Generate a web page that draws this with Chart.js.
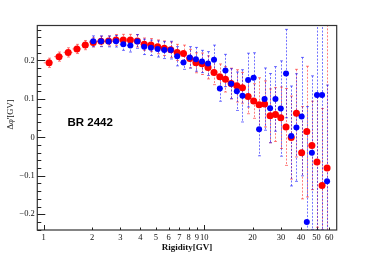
<!DOCTYPE html>
<html>
<head>
<meta charset="utf-8">
<script src="https://cdn.jsdelivr.net/npm/chart.js@4.4.1/dist/chart.umd.min.js"></script>
<style>
  html, body { margin: 0; padding: 0; background: #fff; }
  #wrap { width: 374px; height: 256px; }
</style>
</head>
<body>
<div id="wrap"><canvas id="chart" width="374" height="256"></canvas></div>
<script>
// rigidity bin centres and edges (GV)
var rigidity = [1.08, 1.245, 1.42, 1.61, 1.815, 2.035, 2.275, 2.535, 2.82, 3.13, 3.465, 3.83, 4.225, 4.655, 5.125,
    5.635, 6.185, 6.78, 7.425, 8.12, 8.87, 9.68, 10.55, 11.5, 12.5, 13.55, 14.7, 15.95, 17.3, 18.75,
    20.3, 21.95, 23.75, 25.7, 27.75, 29.95, 32.3, 34.8, 37.5, 40.4, 43.5, 46.8, 50.35, 54.15, 58.2];
var binEdges = [1.00, 1.16, 1.33, 1.51, 1.71, 1.92, 2.15, 2.40, 2.67, 2.97, 3.29, 3.64, 4.02, 4.43, 4.88, 5.37,
    5.90, 6.47, 7.09, 7.76, 8.48, 9.26, 10.1, 11.0, 12.0, 13.0, 14.1, 15.3, 16.6, 18.0, 19.5,
    21.1, 22.8, 24.7, 26.7, 28.8, 31.1, 33.5, 36.1, 38.9, 41.9, 45.1, 48.5, 52.2, 56.1, 60.3];

var redValues = [0.194, 0.210, 0.221, 0.230, 0.240, 0.247, 0.250, 0.251, 0.2535, 0.253, 0.253, 0.251, 0.2425, 0.240, 0.2355,
    0.232, 0.228, 0.221, 0.218, 0.205, 0.194, 0.1915, 0.182, 0.169, 0.158, 0.151, 0.140, 0.134, 0.129, 0.1065,
    0.0945, 0.085, 0.087, 0.056, 0.0594, 0.051, 0.027, -0.0005, 0.063, -0.040, 0.015, -0.021, -0.064, -0.125, -0.080];
var redErrors = [0.012, 0.012, 0.012, 0.012, 0.012, 0.012, 0.013, 0.013, 0.014, 0.015, 0.015, 0.016, 0.016, 0.017, 0.018,
    0.019, 0.020, 0.021, 0.022, 0.024, 0.026, 0.028, 0.030, 0.032, 0.033, 0.033, 0.040, 0.042, 0.040, 0.045,
    0.045, 0.070, 0.060, 0.070, 0.070, 0.080, 0.100, 0.108, 0.114, 0.120, 0.170, 0.115, 0.170, 0.200, 0.400];

var blueValues = [null, null, null, null, null, 0.250, 0.250, 0.2495, 0.250, 0.2424, 0.239, 0.2495, 0.2354, 0.233, 0.230,
    0.227, 0.227, 0.211, 0.195, 0.208, 0.203, 0.1974, 0.192, 0.202, 0.127, 0.174, 0.1396, 0.120, 0.108, 0.149,
    0.155, 0.021, 0.0995, 0.076, 0.100, 0.075, 0.166, 0.0036, 0.0255, 0.054, -0.220, -0.040, 0.110, 0.110, -0.114];
var blueErrors = [null, null, null, null, null, 0.014, 0.014, 0.014, 0.015, 0.016, 0.017, 0.018, 0.020, 0.020, 0.021,
    0.022, 0.023, 0.025, 0.018, 0.028, 0.031, 0.029, 0.031, 0.038, 0.033, 0.042, 0.039, 0.050, 0.068, 0.070,
    0.065, 0.069, 0.081, 0.090, 0.084, 0.124, 0.115, 0.130, 0.140, 0.154, 0.300, 0.200, 0.350, 0.350, 0.250];

var xTickValues = [1, 2, 3, 4, 5, 6, 7, 8, 9, 10, 20, 30, 40, 50, 60];
var yTickValues = [-0.2, -0.1, 0, 0.1, 0.2];

function makePoints(values, errors) {
    var pts = [];
    rigidity.forEach(function (r, i) {
        if (values[i] === null) return;
        pts.push({ x: r, y: values[i], err: errors[i], lo: binEdges[i], hi: binEdges[i + 1] });
    });
    return pts;
}

var serif = '"Liberation Serif", "DejaVu Serif", serif';
Chart.defaults.font.family = serif;

var errorBars = {
    id: 'errorBars',
    beforeDatasetsDraw: function (chart) {
        var ctx = chart.ctx, xs = chart.scales.x, ys = chart.scales.y, a = chart.chartArea;
        ctx.save();
        ctx.beginPath();
        ctx.rect(a.left, a.top, a.right - a.left, a.bottom - a.top);
        ctx.clip();
        ctx.lineWidth = 1;
        chart.data.datasets.slice().reverse().forEach(function (ds) {
            ctx.strokeStyle = ds.errorColor;
            ds.data.forEach(function (p) {
                var px = Math.round(xs.getPixelForValue(p.x)) + 0.5;
                var py = ys.getPixelForValue(p.y);
                var top = ys.getPixelForValue(p.y + p.err);
                var bot = ys.getPixelForValue(p.y - p.err);
                ctx.setLineDash([2, 1.5]);
                ctx.beginPath();
                ctx.moveTo(px, top); ctx.lineTo(px, bot);
                ctx.moveTo(xs.getPixelForValue(p.lo), py); ctx.lineTo(xs.getPixelForValue(p.hi), py);
                ctx.stroke();
                ctx.setLineDash([]);
                ctx.beginPath();
                ctx.moveTo(px - 1.5, top); ctx.lineTo(px + 1.5, top);
                ctx.moveTo(px - 1.5, bot); ctx.lineTo(px + 1.5, bot);
                ctx.stroke();
            });
        });
        ctx.restore();
    },
    afterDraw: function (chart) {
        var ctx = chart.ctx, xs = chart.scales.x, ys = chart.scales.y, a = chart.chartArea;
        ctx.save();
        // frame
        ctx.strokeStyle = '#333';
        ctx.lineWidth = 1.2;
        ctx.strokeRect(a.left, a.top, a.right - a.left, a.bottom - a.top);
        // inward ticks
        ctx.lineWidth = 1;
        ctx.strokeStyle = '#222';
        ctx.beginPath();
        xTickValues.forEach(function (v) {
            var px = Math.round(xs.getPixelForValue(v)) + 0.5;
            var len = (v === 1 || v === 10) ? 5 : 2.5;
            ctx.moveTo(px, a.bottom); ctx.lineTo(px, a.bottom - len);
        });
        for (var k = Math.ceil(ys.min / 0.02); k <= Math.floor(ys.max / 0.02); k++) {
            var py = Math.round(ys.getPixelForValue(k * 0.02)) + 0.5;
            var len = (k % 5 === 0) ? 8 : 4;
            ctx.moveTo(a.left, py); ctx.lineTo(a.left + len, py);
        }
        ctx.stroke();
        // label inside the frame
        ctx.fillStyle = '#000';
        ctx.font = 'bold 11.5px "Liberation Sans", Arial, sans-serif';
        ctx.textAlign = 'left';
        ctx.textBaseline = 'alphabetic';
        ctx.fillText('BR 2442', 67.5, 126);
        // y axis title
        ctx.translate(12.5, 114.5);
        ctx.rotate(-Math.PI / 2);
        ctx.font = '8.5px ' + serif;
        ctx.textAlign = 'center';
        ctx.fillStyle = '#111';
        ctx.fillText('\u0394\u03c6\'[GV]', 0, 0);
        ctx.restore();
    }
};

var ctx = document.getElementById('chart').getContext('2d');
var chart = new Chart(ctx, {
    type: 'scatter',
    data: {
        datasets: [{
            label: 'blue',
            data: makePoints(blueValues, blueErrors),
            pointRadius: 3,
            pointBackgroundColor: '#0000ff',
            pointBorderWidth: 0,
            errorColor: 'rgba(0,0,255,0.55)'
        }, {
            label: 'red',
            data: makePoints(redValues, redErrors),
            pointRadius: 3.5,
            pointBackgroundColor: '#ff0000',
            pointBorderWidth: 0,
            errorColor: 'rgba(255,0,0,0.5)'
        }]
    },
    options: {
        responsive: false,
        animation: false,
        layout: { padding: { top: 25.5, right: 37.3, left: 0, bottom: 0 } },
        plugins: { legend: { display: false }, tooltip: { enabled: false } },
        scales: {
            x: {
                type: 'logarithmic',
                min: 0.912,
                max: 66.8,
                grid: { display: false, drawTicks: false },
                border: { display: false },
                ticks: {
                    autoSkip: false,
                    maxRotation: 0,
                    padding: 3,
                    color: '#111',
                    font: { size: 8.5 },
                    callback: function (v) { return String(v); }
                },
                afterBuildTicks: function (s) { s.ticks = xTickValues.map(function (v) { return { value: v }; }); },
                afterFit: function (s) { s.height = 26; },
                title: {
                    display: true,
                    text: 'Rigidity[GV]',
                    color: '#111',
                    font: { size: 9, weight: 'bold' },
                    padding: { top: 0, bottom: 3 }
                }
            },
            y: {
                min: -0.241,
                max: 0.291,
                grid: { display: false, drawTicks: false },
                border: { display: false },
                ticks: {
                    padding: 2.5,
                    color: '#111',
                    font: { size: 8.5 },
                    callback: function (v) {
                        if (v === 0) return '0';
                        return v < 0 ? '\u2212' + String(Math.abs(v)) : String(v);
                    }
                },
                afterBuildTicks: function (s) { s.ticks = yTickValues.map(function (v) { return { value: v }; }); },
                afterFit: function (s) { s.width = 37.3; }
            }
        }
    },
    plugins: [errorBars]
});
</script>
</body>
</html>
